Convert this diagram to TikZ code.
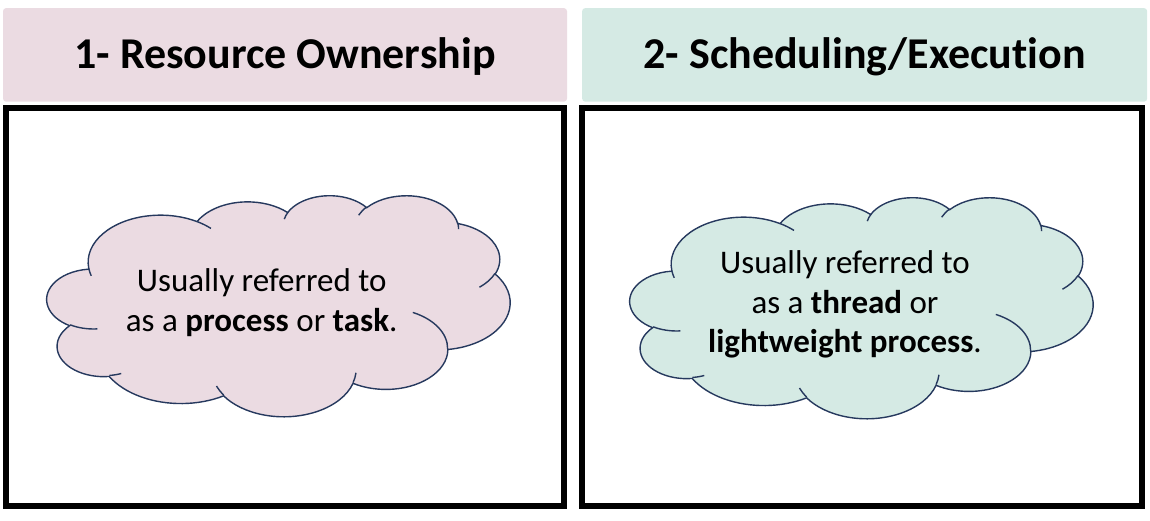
\documentclass[tikz,border=0pt]{standalone}
\usepackage{fontspec}
\setmainfont{Carlito}[Ligatures=NoCommon]
\usetikzlibrary{positioning}
\definecolor{pinkbg}{RGB}{235,219,226}
\definecolor{mintbg}{RGB}{213,234,228}
\definecolor{cloudline}{RGB}{38,57,94}
\tikzset{
  declare function={vis2par(\a,\rx,\ry)=atan2(\rx*sin(\a),\ry*cos(\a))+360*round((\a-atan2(\rx*sin(\a),\ry*cos(\a)))/360);},
  header/.style={rounded corners=3pt, inner sep=0pt, minimum height=93.5pt,
    text height=31pt, text depth=4.7pt, font=\fontsize{44}{52}\selectfont\bfseries},
  frame/.style={draw=black, line width=5.7pt, inner sep=0pt, minimum height=398.3pt},
  cloudedge/.style={draw=cloudline, line width=1.4pt},
  saying/.style={align=center, inner sep=0pt, font=\fontsize{33}{39.5}\selectfont},
}
% one lobe of the cloud, angles as the slide software gives them
\newcommand\lobe[4]{arc[start angle={vis2par(#3,#1,#2)}, end angle={vis2par(#3+#4,#1,#2)}, x radius=#1pt, y radius=#2pt]}
\newcommand\cloudoutline[1]{%
  \draw[cloudedge, fill=#1] (39.00,143.70)
    \lobe{67.53}{91.90}{-190.4875}{123.7805}
    \lobe{53.33}{72.67}{-144.1024}{89.9452}
    \lobe{43.65}{59.45}{-145.8079}{99.7230}
    \lobe{48.57}{65.95}{-130.9861}{117.2417}
    \lobe{53.33}{72.73}{-78.7089}{109.0269}
    \lobe{67.75}{92.20}{-46.2673}{130.2690}
    \lobe{57.85}{78.67}{0.6250}{114.0333}
    \lobe{67.52}{92.15}{22.4516}{115.1726}
    \lobe{77.20}{105.43}{66.2426}{75.7110}
    \lobe{43.60}{59.18}{-274.9421}{146.7356}
    \lobe{43.45}{59.45}{-246.8285}{152.5189} -- cycle;
  % inner strokes
  \draw[cloudedge]
    (46.93,261.77) \lobe{43.45}{59.45}{86.7420}{26.4295}
    (69.28,348.99) \lobe{43.60}{59.18}{73.6105}{11.4475}
    (164.78,390.90) \lobe{67.52}{92.15}{137.6242}{14.0811}
    (288.27,347.51) \lobe{67.52}{92.15}{6.4533}{15.9984}
    (341.29,229.54) \lobe{57.85}{78.67}{-70.2924}{70.9174}
    (417.98,153.54) \lobe{53.33}{72.73}{30.3180}{27.7515}
    (383.24,54.26) \lobe{48.57}{65.95}{-13.7443}{14.8589}
    (290.78,39.52) \lobe{48.57}{65.95}{-149.1815}{18.1954}
    (221.41,47.20) \lobe{43.65}{59.45}{-163.4943}{17.6864}
    (140.00,51.92) \lobe{67.53}{91.90}{-66.7070}{12.3194}
    (41.27,157.89) \lobe{67.53}{91.90}{157.6544}{11.8582};
}

\begin{document}
\begin{tikzpicture}[x=1pt, y=1pt]
\useasboundingbox (0,0) rectangle (1150,521);

\node[header, fill=pinkbg, minimum width=564pt] (H1) at (285,466.1) {1- Resource Ownership};
\node[header, fill=mintbg, minimum width=565pt] (H2) at (864.65,466.1) {2- Scheduling/Execution};

\node[frame, minimum width=558.3pt] (B1) at (285,214) {};
\node[frame, minimum width=560.3pt] (B2) at (862,214) {};

\foreach \ox/\oy/\fillcol in {47/326/pinkbg, 630/324/mintbg}
  {\begin{scope}[shift={(\ox,\oy)}, xscale=1.07176, yscale=-0.51157]
    \cloudoutline{\fillcol}
  \end{scope}}

\node[saying] (T1) at (261.7,218.5) {Usually referred to\\as a \textbf{process} or \textbf{task}.};
\node[saying] (T2) at (845,216.5) {Usually referred to\\as a \textbf{thread} or\\\textbf{lightweight process}.};

\end{tikzpicture}
\end{document}
